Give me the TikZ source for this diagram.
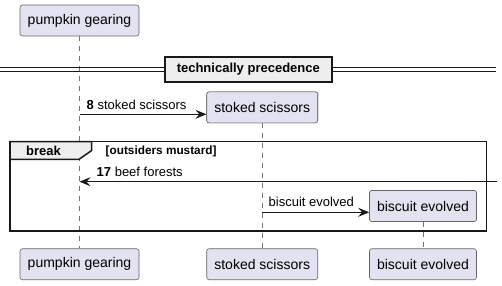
\documentclass[tikz,border=0pt]{standalone}
\usepackage{fontspec}
\setmainfont{Liberation Sans}
\usetikzlibrary{arrows.meta}
\definecolor{partfill}{HTML}{E2E2F0}
\definecolor{grpfill}{HTML}{EEEEEE}

\begin{document}
\begin{tikzpicture}[x=1pt, y=-1pt, font=\fontsize{13}{15}\selectfont,
    participant/.style={draw=black!60, fill=partfill, rounded corners=2.5pt,
      line width=0.6pt, minimum height=31pt, inner sep=0pt,
      font=\fontsize{14}{16}\selectfont},
    lifeline/.style={draw=black!55, line width=0.5pt, dash pattern=on 5pt off 5pt},
    message/.style={draw=black!90, line width=0.9pt,
      -{Stealth[length=11pt, width=9pt, inset=4pt]}},
    msglabel/.style={anchor=base west, inner sep=0pt},
    frame/.style={draw=black!90, line width=1.5pt}]

  \useasboundingbox (0,0) rectangle (502,285);

  % participants, top and bottom
  \node[participant, minimum width=119pt] (pumpkinTop) at (79.5,20.5) {pumpkin gearing};
  \node[participant, minimum width=111pt] (scissorsBox) at (262.2,107.3) {stoked scissors};
  \node[participant, minimum width=107pt] (biscuitBox) at (423,206) {biscuit evolved};
  \node[participant, minimum width=119pt] (pumpkinBottom) at (79.5,264.2) {pumpkin gearing};
  \node[participant, minimum width=111pt] (scissorsBottom) at (262.2,264.2) {stoked scissors};
  \node[participant, minimum width=107pt] (biscuitBottom) at (423,264.2) {biscuit evolved};

  % lifelines
  \draw[lifeline] (pumpkinTop) -- (pumpkinBottom);
  \draw[lifeline] (scissorsBox) -- (scissorsBottom);
  \draw[lifeline] (biscuitBox) -- (biscuitBottom);

  % separator
  \draw[black!90, line width=1pt] (0,67.8) -- (496,67.8) (0,71.2) -- (496,71.2);
  \node[frame, fill=grpfill, minimum width=167pt, minimum height=25pt, inner sep=0pt,
        font=\bfseries\fontsize{13}{15}\selectfont] (sepBox) at (248.3,69.5) {technically precedence};

  % break group
  \draw[frame, fill=grpfill] (10,141.7) -- (91.7,141.7) -- (91.7,150.5) -- (79,159.3) -- (10,159.3) -- cycle;
  \draw[frame] (10,141.7) rectangle (486.7,230.8);
  \node[font=\bfseries\fontsize{13}{15}\selectfont, inner sep=0pt] (breakLabel) at (43.5,151) {break};
  \node[font=\bfseries\fontsize{11.8}{13}\selectfont, inner sep=0pt, anchor=west] (guard) at (105.5,151.5) {[outsiders mustard]};

  % messages
  \coordinate (msg8) at (79.5,114.3);
  \draw[message] (msg8) -- (msg8 -| scissorsBox.west);
  \node[msglabel] (label8) at (86.5,109.8) {\textbf{8} stoked scissors};

  \coordinate (msg17) at (496.7,181.7);
  \draw[message] (msg17) -- (msg17 -| pumpkinTop);
  \node[msglabel] (label17) at (96.5,176.5) {\textbf{17} beef forests};

  \coordinate (msgBiscuit) at (262.2,212.3);
  \draw[message] (msgBiscuit) -- (msgBiscuit -| biscuitBox.west);
  \node[msglabel] (labelBiscuit) at (268.5,206.5) {biscuit evolved};

  % redraw boxes over the lifelines
  \node[participant, minimum width=111pt] at (scissorsBox) {stoked scissors};
  \node[participant, minimum width=107pt] at (biscuitBox) {biscuit evolved};
\end{tikzpicture}
\end{document}
